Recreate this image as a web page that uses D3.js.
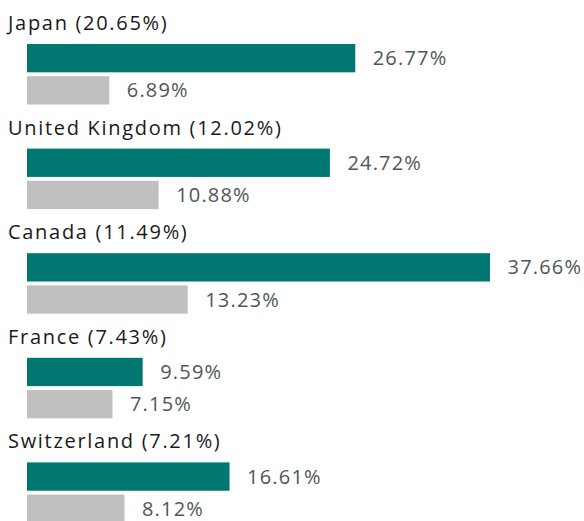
<!DOCTYPE html>
<html>
<head>
<meta charset="utf-8">
<script src="https://cdn.jsdelivr.net/npm/d3@7"></script>
<style>
  html, body { margin: 0; padding: 0; background: #ffffff; }
  svg { display: block; }
</style>
</head>
<body>
<div id="chart"></div>
<script>
// Data
const countries = ["Japan", "United Kingdom", "Canada", "France", "Switzerland"];
const countryWeights = [20.65, 12.02, 11.49, 7.43, 7.21];
const fundValues = [26.77, 24.72, 37.66, 9.59, 16.61];
const benchmarkValues = [6.89, 10.88, 13.23, 7.15, 8.12];
const seriesNames = ["fund", "benchmark"];

const W = 584, H = 521;
const fontFamily = "'Open Sans', Lato, sans-serif";

const svg = d3.select("#chart").append("svg")
  .attr("width", W).attr("height", H);

const maxVal = d3.max(fundValues.concat(benchmarkValues));
const x = d3.scaleLinear().domain([0, maxVal]).range([24, 490]);
const barStart = 27;

const y = d3.scaleBand().domain(countries).range([44, 44 + 104.6 * countries.length]).paddingInner(0).paddingOuter(0);
const ySeries = d3.scaleBand().domain(seriesNames).range([0, 60.5]).paddingInner(0.12).paddingOuter(0);

const colors = { fund: "#007770", benchmark: "#c0c0c0" };

const rows = countries.map((c, i) => ({
  country: c,
  weight: countryWeights[i],
  values: { fund: fundValues[i], benchmark: benchmarkValues[i] }
}));

const g = svg.selectAll("g.row").data(rows).join("g")
  .attr("class", "row")
  .attr("transform", d => `translate(0,${y(d.country)})`);

g.append("text")
  .attr("x", 8)
  .attr("y", -14)
  .attr("font-family", fontFamily)
  .attr("font-size", 20)
  .attr("font-weight", 400)
  .attr("letter-spacing", 1.7)
  .attr("fill", "#1a1a1a")
  .text(d => `${d.country} (${d.weight.toFixed(2)}%)`);

seriesNames.forEach(s => {
  g.append("rect")
    .attr("x", barStart)
    .attr("y", ySeries(s))
    .attr("width", d => Math.max(0, x(d.values[s]) - barStart))
    .attr("height", ySeries.bandwidth())
    .attr("fill", colors[s]);

  g.append("text")
    .attr("x", d => x(d.values[s]) + 17.5)
    .attr("y", ySeries(s) + ySeries.bandwidth() / 2)
    .attr("dy", "0.35em")
    .attr("font-family", fontFamily)
    .attr("font-size", 20)
    .attr("font-weight", 400)
    .attr("letter-spacing", 1.2)
    .attr("fill", "#4d5856")
    .text(d => `${d.values[s].toFixed(2)}%`);
});
</script>
</body>
</html>
